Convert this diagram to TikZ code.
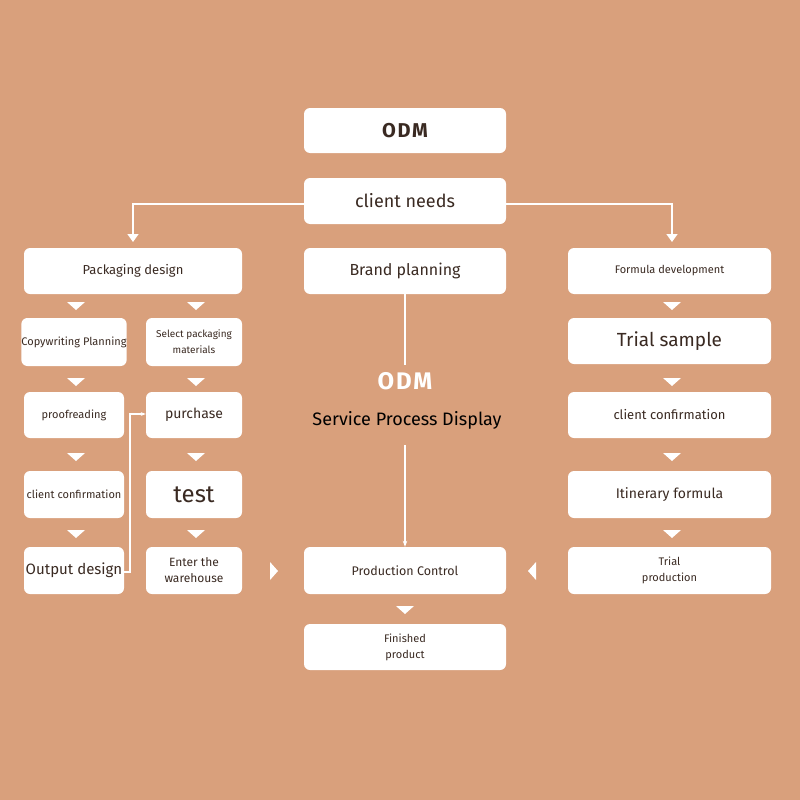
\documentclass[tikz,border=0pt]{standalone}
\usepackage{fontspec}
\setmainfont{Fira Sans}
\usetikzlibrary{arrows.meta}
\definecolor{bgtan}{HTML}{D9A07C}
\definecolor{txtdark}{HTML}{3A2A22}
\tikzset{
  box/.style={fill=white,rounded corners=6pt,text=txtdark,align=center,inner sep=0pt},
  tri/.style={fill=white,draw=none},
  link/.style={draw=white,line width=1.5pt}
}
\newcommand{\fs}[1]{\fontsize{#1}{16}\selectfont}
\newcommand{\boxat}[6]{\node[box,minimum width=#3-#2,minimum height=#5-#4,font=#6] (#1) at ({(#2+#3)/2},{(#4+#5)/2})}
\begin{document}
\begin{tikzpicture}[x=1pt,y=-1pt]
    % background
    \fill[bgtan] (0,0) rectangle (800,800);
    \useasboundingbox (0,0) rectangle (800,800);

    % centre column
    \boxat{odm}{304}{506}{108}{153}{\fs{20}\bfseries\addfontfeature{LetterSpace=8}}{ODM};
    \boxat{needs}{304}{506}{178}{224}{\fs{18}}{client needs};
    \boxat{brand}{304}{506}{248}{294}{\fs{16}}{Brand planning};
    \boxat{prod}{304}{506}{547}{594}{\fs{12.5}}{Production Control};
    \boxat{fin}{304}{506}{624}{670}{\fs{11}}{Finished\\product};

    % left side
    \boxat{pack}{24}{242}{248}{294}{\fs{13}}{Packaging design};
    \boxat{copy}{24}{124}{318}{366}{\fs{11}}{Copywriting Planning};
    \boxat{select}{146}{242}{318}{366}{\fs{10}}{Select packaging\\materials};
    \boxat{proof}{24}{124}{392}{438}{\fs{11}}{proofreading};
    \boxat{purch}{146}{242}{392}{438}{\fs{14}}{purchase};
    \boxat{lconf}{24}{124}{471}{518}{\fs{11}}{client confirmation};
    \boxat{test}{146}{242}{471}{518}{\fs{24}}{test};
    \boxat{outd}{24}{124}{547}{594}{\fs{15}}{Output design};
    \boxat{ware}{146}{242}{547}{594}{\fs{12}}{Enter the\\warehouse};

    % right side
    \boxat{form}{568}{771}{248}{294}{\fs{11}}{Formula development};
    \boxat{trial}{568}{771}{318}{364}{\fs{19}}{Trial sample};
    \boxat{rconf}{568}{771}{392}{438}{\fs{13}}{client confirmation};
    \boxat{itin}{568}{771}{471}{518}{\fs{14}}{Itinerary formula};
    \boxat{tprod}{568}{771}{547}{594}{\fs{11}}{Trial\\production};

    % middle title
    \node[text=white,font=\fs{24}\bfseries\addfontfeature{LetterSpace=8}] (title) at (405,381) {ODM};
    \node[text=black,font=\fs{18}] (sub) at (407,420) {Service Process Display};

    % connectors
    \draw[link,-{Triangle[width=11pt,length=8pt]}] (needs.west |- 0,204) -| (133,242);
    \draw[link,-{Triangle[width=11pt,length=8pt]}] (needs.east |- 0,204) -| (672,242);
    \draw[link] (brand.south) -- (405,365);
    \draw[link,-{Stealth[length=6pt]}] (405,445) -- (prod.north);
    \draw[link,-{Stealth[length=5pt]}] (outd.east |- 0,572) -| (130,414) -- (purch.west |- 0,414);

    % small triangles
    \foreach \x in {76,196,672}
      \foreach \y in {306,382,457,534}
        \fill[tri] (\x-9,\y-4) -- (\x+9,\y-4) -- (\x,\y+4) -- cycle;
    \fill[tri] (396,606) -- (414,606) -- (405,614) -- cycle;
    \fill[tri] (270,562) -- (270,580) -- (278,571) -- cycle;
    \fill[tri] (536,562) -- (536,580) -- (528,571) -- cycle;
\end{tikzpicture}
\end{document}
